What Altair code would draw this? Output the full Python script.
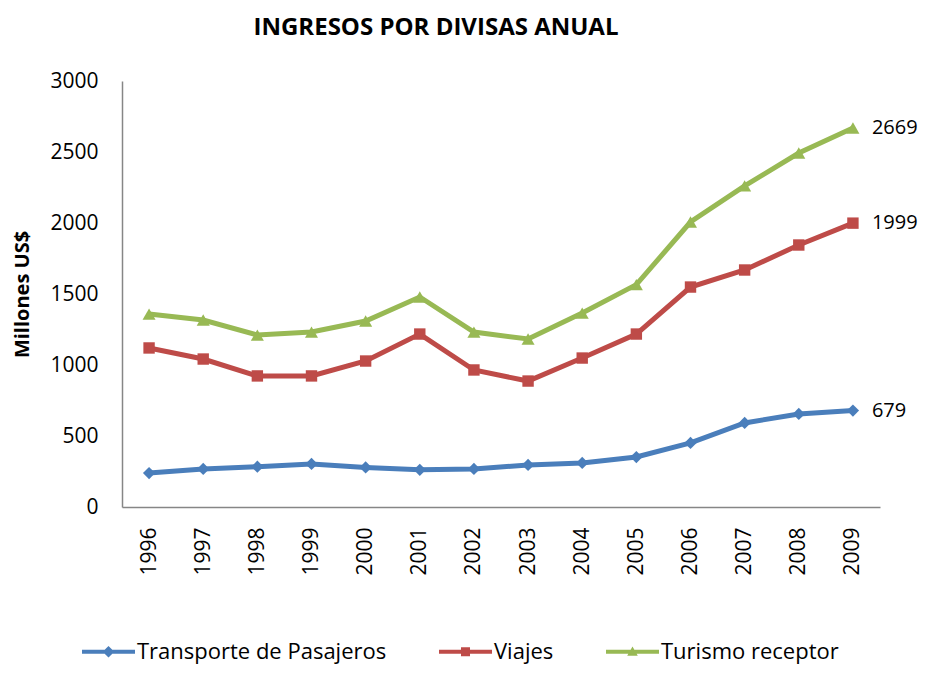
import altair as alt
import pandas as pd

years = [str(y) for y in range(1996, 2010)]
transporte = [239, 268, 284, 303, 279, 262, 268, 296, 310, 352, 451, 592, 655, 679]
viajes = [1120, 1042, 923, 923, 1028, 1218, 965, 887, 1049, 1218, 1549, 1669, 1845, 1999]
turismo = [1359, 1317, 1211, 1232, 1310, 1479, 1232, 1183, 1366, 1566, 2007, 2261, 2493, 2669]
series = ["Transporte de Pasajeros", "Viajes", "Turismo receptor"]
colors = ["#4A7EBB", "#BE4B48", "#98B954"]
marker_shapes = ["diamond", "square", "triangle-up"]
marker_sizes = [150, 130, 170]
legend_paths = [
    "M-1,-0.08L1,-0.08L1,0.08L-1,0.08Z M0,-0.22L0.22,0L0,0.22L-0.22,0Z",
    "M-1,-0.08L1,-0.08L1,0.08L-1,0.08Z M-0.17,-0.17L0.17,-0.17L0.17,0.17L-0.17,0.17Z",
    "M-1,-0.08L1,-0.08L1,0.08L-1,0.08Z M0,-0.2L0.2,0.15L-0.2,0.15Z",
]

rows = []
for name, vals in zip(series, [transporte, viajes, turismo]):
    for y, v in zip(years, vals):
        rows.append({"year": y, "value": v, "series": name})
df = pd.DataFrame(rows)

FONT = "Open Sans"

x_enc = alt.X(
    "year:O",
    scale=alt.Scale(type="point", padding=0.5),
    axis=alt.Axis(
        title=None, labelAngle=-90, labelPadding=20, labelFontSize=21,
        labelColor="black", ticks=False, domainColor="#868686", domainWidth=1.5,
    ),
)
y_enc = alt.Y(
    "value:Q",
    scale=alt.Scale(domain=[0, 3000], nice=False),
    axis=alt.Axis(
        values=[0, 500, 1000, 1500, 2000, 2500, 3000], format="d", grid=False, ticks=False,
        labelFontSize=21, labelColor="black", labelPadding=24,
        domainColor="#868686", domainWidth=1.5,
        title="Millones US$", titleFontSize=20, titleFontWeight="bold",
        titleColor="black", titleX=-100, titleY=213, titleAngle=-90,
        titleAlign="center", titleBaseline="middle",
    ),
)

base = alt.Chart(df)

layers = []
for name, col in zip(series, colors):
    layers.append(
        base.transform_filter(alt.datum.series == name)
        .mark_line(strokeWidth=5, color=col)
        .encode(x=x_enc, y=y_enc)
    )
for name, col, shp, sz in zip(series, colors, marker_shapes, marker_sizes):
    layers.append(
        base.transform_filter(alt.datum.series == name)
        .mark_point(filled=True, opacity=1, shape=shp, size=sz, color=col)
        .encode(x=x_enc, y=y_enc)
    )

leg = alt.Legend(
    title=None, orient="none", direction="horizontal", legendX=-40, legendY=544,
    labelFontSize=22, labelColor="black", labelFont=FONT, labelLimit=600,
    symbolSize=2809, symbolOpacity=1, symbolStrokeWidth=0, labelOffset=2,
    columnPadding=52, padding=0,
)
legend_layer = base.transform_filter("false").mark_point(
    filled=True, opacity=1, size=2809, strokeWidth=0
).encode(
    x=x_enc, y=y_enc,
    fill=alt.Fill("series:N", scale=alt.Scale(domain=series, range=colors), legend=leg),
    shape=alt.Shape("series:N", scale=alt.Scale(domain=series, range=legend_paths), legend=leg),
)
layers.append(legend_layer)

end_labels = base.transform_filter(alt.datum.year == "2009").mark_text(
    align="left", baseline="middle", dx=19, fontSize=20, font=FONT, color="black"
).encode(x=x_enc, y=y_enc, text="value:Q")
layers.append(end_labels)

chart = alt.layer(*layers).properties(
    width=758, height=426,
    title=alt.TitleParams(
        "INGRESOS POR DIVISAS ANUAL", fontSize=24, font=FONT, fontWeight="bold",
        color="black", anchor="middle", dx=-65, offset=30,
    ),
    autosize=alt.AutoSizeParams(type="none"),
    padding={"left": 114, "top": 73, "right": 38, "bottom": 160},
).configure(font=FONT).configure_view(stroke=None)

chart.save("out.html", embed_options={"renderer": "svg", "actions": False})
